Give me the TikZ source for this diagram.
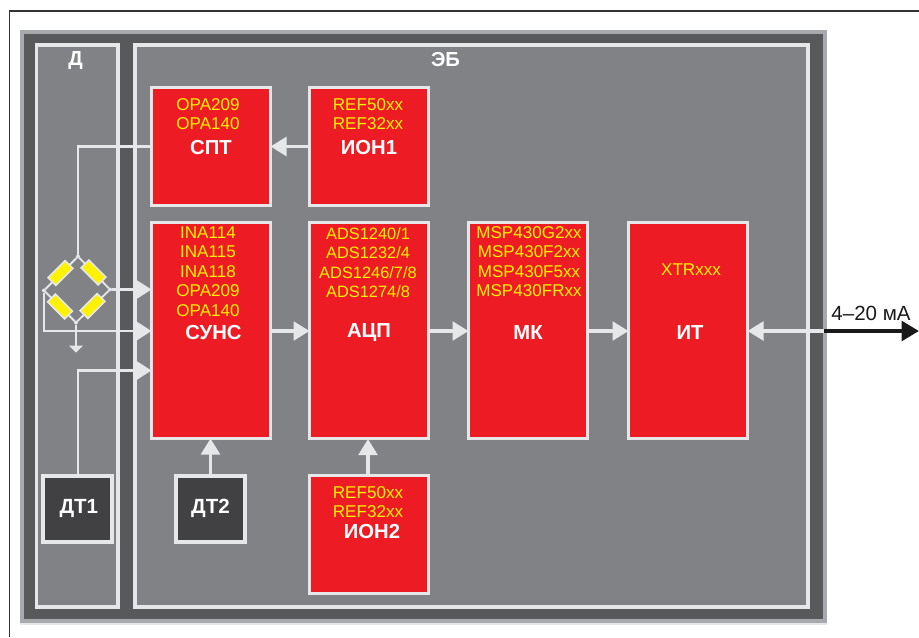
\documentclass[tikz,border=0pt]{standalone}
\usepackage{fontspec}
\setmainfont{Liberation Sans}
\usetikzlibrary{arrows.meta}
\definecolor{redb}{HTML}{ED1C24}
\definecolor{lgr}{HTML}{E6E7E8}
\definecolor{midg}{HTML}{808285}
\definecolor{darkg}{HTML}{58595B}
\definecolor{edgeg}{HTML}{A7A9AC}
\definecolor{dtg}{HTML}{414042}
\definecolor{yel}{HTML}{FFF200}
\tikzset{
  px/.style={x=0.75pt,y=-0.75pt},
  block/.style={draw=lgr,line width=2.8pt,fill=redb,rectangle,inner sep=0pt,outer sep=0pt,minimum width=0.75pt*119,anchor=north west},
  panel/.style={draw=lgr,line width=2.6pt,fill=midg},
  dtbox/.style={draw=lgr,line width=3pt,fill=dtg,rectangle,inner sep=0pt,outer sep=0pt,minimum width=0.75pt*69,minimum height=0.75pt*66,anchor=north west,text=white,font=\bfseries\fontsize{15.4pt}{15.4pt}\selectfont},
  parts/.style={text=yel,font=\fontsize{12.8pt}{14.6pt}\selectfont,align=center,inner sep=0pt},
  title/.style={text=white,font=\bfseries\fontsize{15.2pt}{15.2pt}\selectfont,inner sep=0pt},
  wire/.style={draw=lgr,line width=1.9pt},
  conn/.style={draw=lgr,line width=1.9pt,-{Triangle[length=11pt,width=13.5pt,fill=lgr]}},
  thick conn/.style={draw=lgr,line width=2.6pt,-{Triangle[length=12pt,width=14pt,fill=lgr]}},
  res/.style={draw=lgr,line width=1.2pt,fill=yel,rectangle,minimum width=0.75pt*24,minimum height=0.75pt*11,inner sep=0pt,outer sep=0pt},
  dot/.style={circle,fill=lgr,minimum size=3pt,inner sep=0pt,outer sep=0pt}
}
\begin{document}
\begin{tikzpicture}[px]
\useasboundingbox (0,0) rectangle (919,637);
\draw[black!80,line width=0.9pt] (919,11) -- (9.5,11) -- (9.5,637);
\fill[lgr] (20,622) rectangle (827,624.5);
\draw[edgeg,fill=darkg,line width=3pt] (21.5,31.5) rectangle (825,621);
\draw[panel] (36.5,45) rectangle (118,607);
\draw[panel] (135,45) rectangle (808,607);
\node[title] (tD) at (75.5,61) {Д};
\node[title] (tEB) at (445.5,60) {ЭБ};
% blocks
\node[block,minimum height=0.75pt*118] (spt) at (151.5,87.5) {};
\node[block,minimum height=0.75pt*118] (ion1) at (309.5,87.5) {};
\node[block,minimum height=0.75pt*216] (suns) at (151.5,222.5) {};
\node[block,minimum height=0.75pt*216] (adc) at (309.5,222.5) {};
\node[block,minimum height=0.75pt*216] (mk) at (468.5,222.5) {};
\node[block,minimum height=0.75pt*216] (it) at (628.5,222.5) {};
\node[block,minimum height=0.75pt*118] (ion2) at (309.5,475.5) {};
\node[dtbox] (dt1) at (43,475.5) {\raisebox{-1pt}{\hspace*{2pt}ДТ1}};
\node[dtbox] (dt2) at (176,475.5) {\raisebox{-1pt}{ДТ2}};
% texts
\node[parts] (p1) at (208,114) {OPA209\\OPA140};
\node[title] (t1) at (211,148) {СПТ};
\node[parts] (p2) at (368,114) {REF50xx\\REF32xx};
\node[title] (t2) at (369,148) {ИОН1};
\node[parts] (p3) at (208,271.5) {INA114\\INA115\\INA118\\OPA209\\OPA140};
\node[title] (t3) at (213.5,333) {СУНС};
\node[parts,font=\fontsize{12.3pt}{14.6pt}\selectfont] (p4) at (368,262.5) {ADS1240/1\\ADS1232/4\\ADS1246/7/8\\ADS1274/8};
\node[title] (t4) at (369,333) {АЦП};
\node[parts] (p5) at (529,261.5) {MSP430G2xx\\MSP430F2xx\\MSP430F5xx\\MSP430FRxx};
\node[title] (t5) at (528,333) {МК};
\node[parts] (p6) at (691,270) {XTRxxx};
\node[title] (t6) at (690,333) {ИТ};
\node[parts] (p7) at (368,502) {REF50xx\\REF32xx};
\node[title] (t7) at (372,532) {ИОН2};
% bridge
\node[dot] (bt) at (78,256.5) {};
\node[dot] (br) at (110,289.5) {};
\node[dot] (bb) at (76,322.5) {};
\node[dot] (bl) at (44,290.5) {};
\draw[wire,line width=1.4pt] (bt) -- (br) -- (bb) -- (bl) -- (bt);
\node[res,rotate=-45] (r1) at (93.5,272.5) {};
\node[res,rotate=45] (r2) at (60.5,273) {};
\node[res,rotate=45] (r3) at (92.5,306) {};
\node[res,rotate=-45] (r4) at (60,306.5) {};
% connectors
\coordinate (c1) at (bt|-spt.west);
\draw[wire] (spt.west) -- (c1) -- (bt);
\draw[conn] (br) -- (br-|suns.west);
\coordinate (c2) at (44,331);
\draw[conn] (bl) -- (c2) -- (c2-|suns.west);
\coordinate (g) at (76,347);
\draw[wire] (bb) -- (g);
\fill[lgr] (69,345.5) -- (83,345.5) -- (76,352.5) -- cycle;
\coordinate (c3) at (78,370.5);
\draw[conn] (dt1.north-|c3) -- (c3) -- (c3-|suns.west);
\draw[thick conn] (dt2.north) -- (dt2.north|-suns.south);
\draw[thick conn] (ion2.north-|368,0) -- (368,439);
\draw[thick conn] (ion1.west) -- (spt.east);
\draw[thick conn] (suns.east|-0,331) -- (adc.west|-0,331);
\draw[thick conn] (adc.east|-0,331) -- (mk.west|-0,331);
\draw[thick conn] (mk.east|-0,331) -- (it.west|-0,331);
\coordinate (out) at (824,331);
\coordinate (tip) at (919,331);
\draw[thick conn] (out) -- (it.east|-0,331);
\draw[line width=3.2pt,black!90,-{Triangle[length=13pt,width=14.5pt]}] (out) -- (tip);
\node[text=black!90,font=\fontsize{15.4pt}{15pt}\selectfont,inner sep=0pt] (lbl) at (871,313) {4–20 мА};
\end{tikzpicture}
\end{document}
